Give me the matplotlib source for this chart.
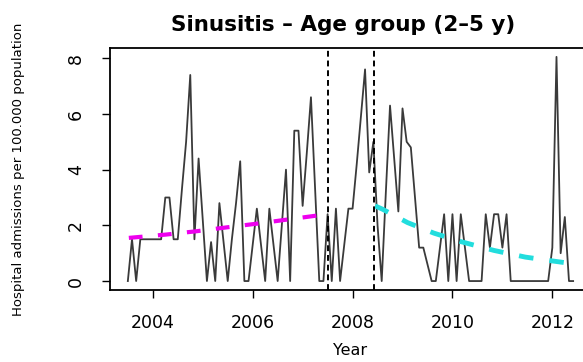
import numpy as np
import matplotlib
matplotlib.use("Agg")
import matplotlib.pyplot as plt

# dados mensais a partir de julho de 2003 (taxa por 100.000)
ano_inicio = 2003.5
taxas = [0, 1.5, 0, 1.5, 1.5, 1.5, 1.5, 1.5, 1.5, 3.0, 3.0, 1.5,
         1.5, 3.3, 5.0, 7.4, 1.5, 4.4, 2.2, 0, 1.4, 0, 2.8, 1.4,
         0, 1.5, 2.8, 4.3, 0, 0, 1.3, 2.6, 1.3, 0, 2.6, 1.3,
         0, 2.0, 4.0, 0, 5.4, 5.4, 2.7, 4.6, 6.6, 3.3, 0, 0,
         2.4, 0, 2.6, 0, 1.3, 2.6, 2.6, 4.2, 5.9, 7.6, 3.9, 5.0,
         2.0, 0, 3.2, 6.3, 4.4, 2.5, 6.2, 5.0, 4.8, 3.0, 1.2, 1.2,
         0.6, 0, 0, 1.2, 2.4, 0, 2.4, 0, 2.4, 1.2, 0, 0,
         0, 0, 2.4, 1.2, 2.4, 2.4, 1.2, 2.4, 0, 0, 0, 0,
         0, 0, 0, 0, 0, 0, 1.2, 8.05, 1.0, 2.3, 0, 0]

# tendencias
tend1_x = [2003.52, 2004.27, 2004.88, 2005.49, 2006.17, 2006.78, 2007.32, 2007.52]
tend1_y = [1.55, 1.67, 1.79, 1.93, 2.08, 2.23, 2.36, 2.40]
tend2_x = [2008.45, 2008.6, 2009.1, 2009.63, 2010.16, 2010.83, 2011.46, 2012.09, 2012.42]
tend2_y = [2.70, 2.58, 2.10, 1.72, 1.42, 1.10, 0.86, 0.70, 0.62]

# intervencoes
cortes = [2007.5, 2008.42]

anos_ticks = [2004, 2006, 2008, 2010, 2012]
y_ticks = [0, 2, 4, 6, 8]

plt.rcParams['font.family'] = ['DejaVu Sans']

tempo = ano_inicio + np.arange(len(taxas)) / 12.0

fig = plt.figure(figsize=(5.83, 3.62), dpi=100)
ax = fig.add_axes([0.1887, 0.199, 0.825, 0.6685])

ax.plot(tempo, taxas, color='#3a3a3a', lw=1.3)
ax.plot(tend1_x, tend1_y, color='#ee00ee', lw=3, dashes=(3.3, 3.7))
ax.plot(tend2_x, tend2_y, color='#22dddd', lw=3.5, dashes=(3.0, 3.3))
for c in cortes:
    ax.axvline(c, color='black', lw=1.4, dashes=(3, 2))

ax.set_xlim(2003.143, 2012.774)
ax.set_ylim(-0.32, 8.37)
ax.set_xticks(anos_ticks)
ax.set_yticks(y_ticks)
ax.tick_params(direction='out', length=6, width=1, labelsize=12.5)
ax.tick_params(axis='x', pad=11)
ax.tick_params(axis='y', pad=12)
plt.setp(ax.get_yticklabels(), rotation=90, va='center')
for s in ax.spines.values():
    s.set_linewidth(1.3)

ax.set_title("Sinusitis \u2013 Age group (2\u20135 y)", fontsize=15.5,
             fontweight='bold', pad=12, x=0.485)
ax.set_xlabel("Year", fontsize=11.5, labelpad=8)
ax.set_ylabel("Hospital admissions per 100.000 population", fontsize=9.5,
              labelpad=30)

fig.savefig("out.png", dpi=100)
